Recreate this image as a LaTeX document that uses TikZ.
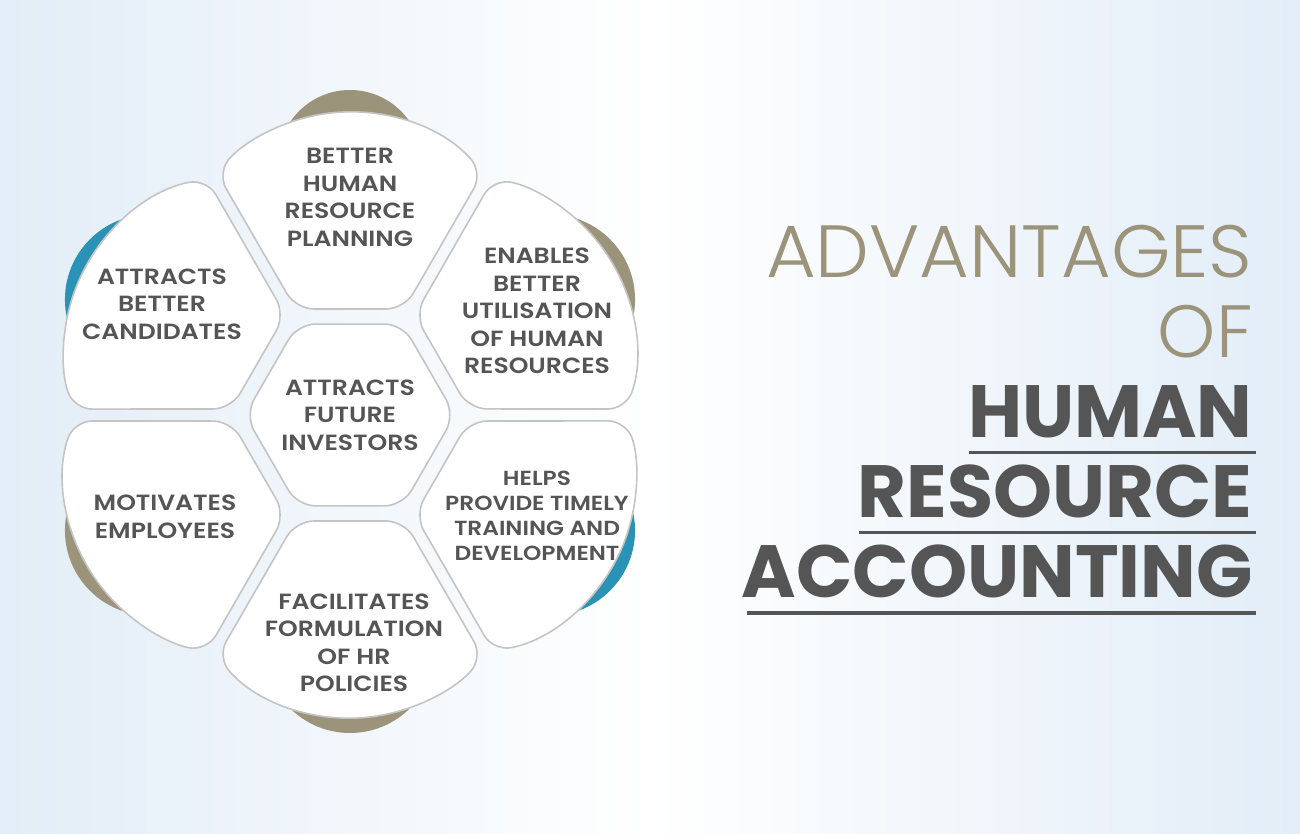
\documentclass[tikz,border=0pt]{standalone}
\usepackage{fontspec}
\IfFontExistsTF{Poppins SemiBold}{\newfontfamily\petalfont{Poppins SemiBold}}{\newfontfamily\petalfont{Poppins}[UprightFont=*-Bold]}
\IfFontExistsTF{Poppins Light}{\newfontfamily\thinfont{Poppins Light}}{\newfontfamily\thinfont{Poppins}}
\newfontfamily\heavyfont{Poppins}
\definecolor{txtgray}{RGB}{85,85,85}
\definecolor{khaki}{RGB}{155,147,122}
\definecolor{hrblue}{RGB}{42,147,181}
\definecolor{edgegray}{RGB}{196,196,196}
\definecolor{bgblue}{RGB}{226,237,247}

\begin{document}
\begin{tikzpicture}[x=0.5pt,y=0.5pt]
  \tikzset{
    petal/.style={draw=edgegray, line width=0.8pt, fill=white, rounded corners=9pt},
    lbl/.style={align=center, text=txtgray, inner sep=0pt, xscale=1.14, transform shape,
      font=\petalfont\fontsize{11}{13.75}\selectfont},
    title/.style={anchor=base east, inner sep=0pt, font=\fontsize{37}{40}\selectfont},
    rule/.style={draw=txtgray, line width=1.8pt}
  }
  % background
  \shade[left color=bgblue, right color=bgblue, middle color=white] (-350,-419) rectangle (950,415);
  % crescents behind the petals
  \foreach \a/\c/\d/\r in {90/khaki/253/72, 30/khaki/231/85, 150/hrblue/231/85,
                           210/khaki/231/85, 330/hrblue/231/85, 270/khaki/233/85}
    \fill[\c] (\a:\d) circle (\r);
  % petals
  \foreach \a in {30,90,...,330}
    \draw[petal, rotate={\a-90}] (-54.2,106) -- (54.2,106) -- (132.8,242)
      arc[start angle=40.6, end angle=139.4, radius=175] -- cycle;
  % hub
  \draw[petal] (0:105) -- (60:105) -- (120:105) -- (180:105) -- (240:105) -- (300:105) -- cycle;

  \node[lbl] (hrp) at (0,217.5) {BETTER\\HUMAN\\RESOURCE\\PLANNING};
  \node[lbl] (util) at (187,104) {ENABLES\\BETTER\\UTILISATION\\OF HUMAN\\RESOURCES};
  \node[lbl] (cand) at (-188,111) {ATTRACTS\\BETTER\\CANDIDATES};
  \node[lbl] (invest) at (0,0) {ATTRACTS\\FUTURE\\INVESTORS};
  \node[lbl] (motiv) at (-185,-102) {MOTIVATES\\EMPLOYEES};
  \node[lbl, font=\petalfont\fontsize{10.2}{12.4}\selectfont] (train) at (187,-101) {HELPS\\PROVIDE TIMELY\\TRAINING AND\\DEVELOPMENT};
  \node[lbl] (policy) at (4,-228) {FACILITATES\\FORMULATION\\OF HR\\POLICIES};

  % title
  \node[title, text=khaki, xscale=1.03, transform shape, font=\thinfont\fontsize{37}{40}\selectfont] (adv) at (903,137.4) {ADVANTAGES};
  \node[title, text=khaki, font=\thinfont\fontsize{37}{40}\selectfont] (of) at (903,57.4) {OF};
  \node[title, text=txtgray, font=\heavyfont\bfseries\fontsize{37}{40}\selectfont] (human) at (903,-23) {HUMAN};
  \node[title, text=txtgray, xscale=1.015, transform shape, font=\heavyfont\bfseries\fontsize{37}{40}\selectfont] (res) at (903,-103) {RESOURCE};
  \node[title, text=txtgray, font=\heavyfont\bfseries\fontsize{37}{40}\selectfont] (acc) at (903,-183) {ACCOUNTING};
  \draw[rule] (619,-37.6) -- (906,-37.6);
  \draw[rule] (509,-117.6) -- (906,-117.6);
  \draw[rule] (397,-197.7) -- (906,-197.7);
\end{tikzpicture}
\end{document}
